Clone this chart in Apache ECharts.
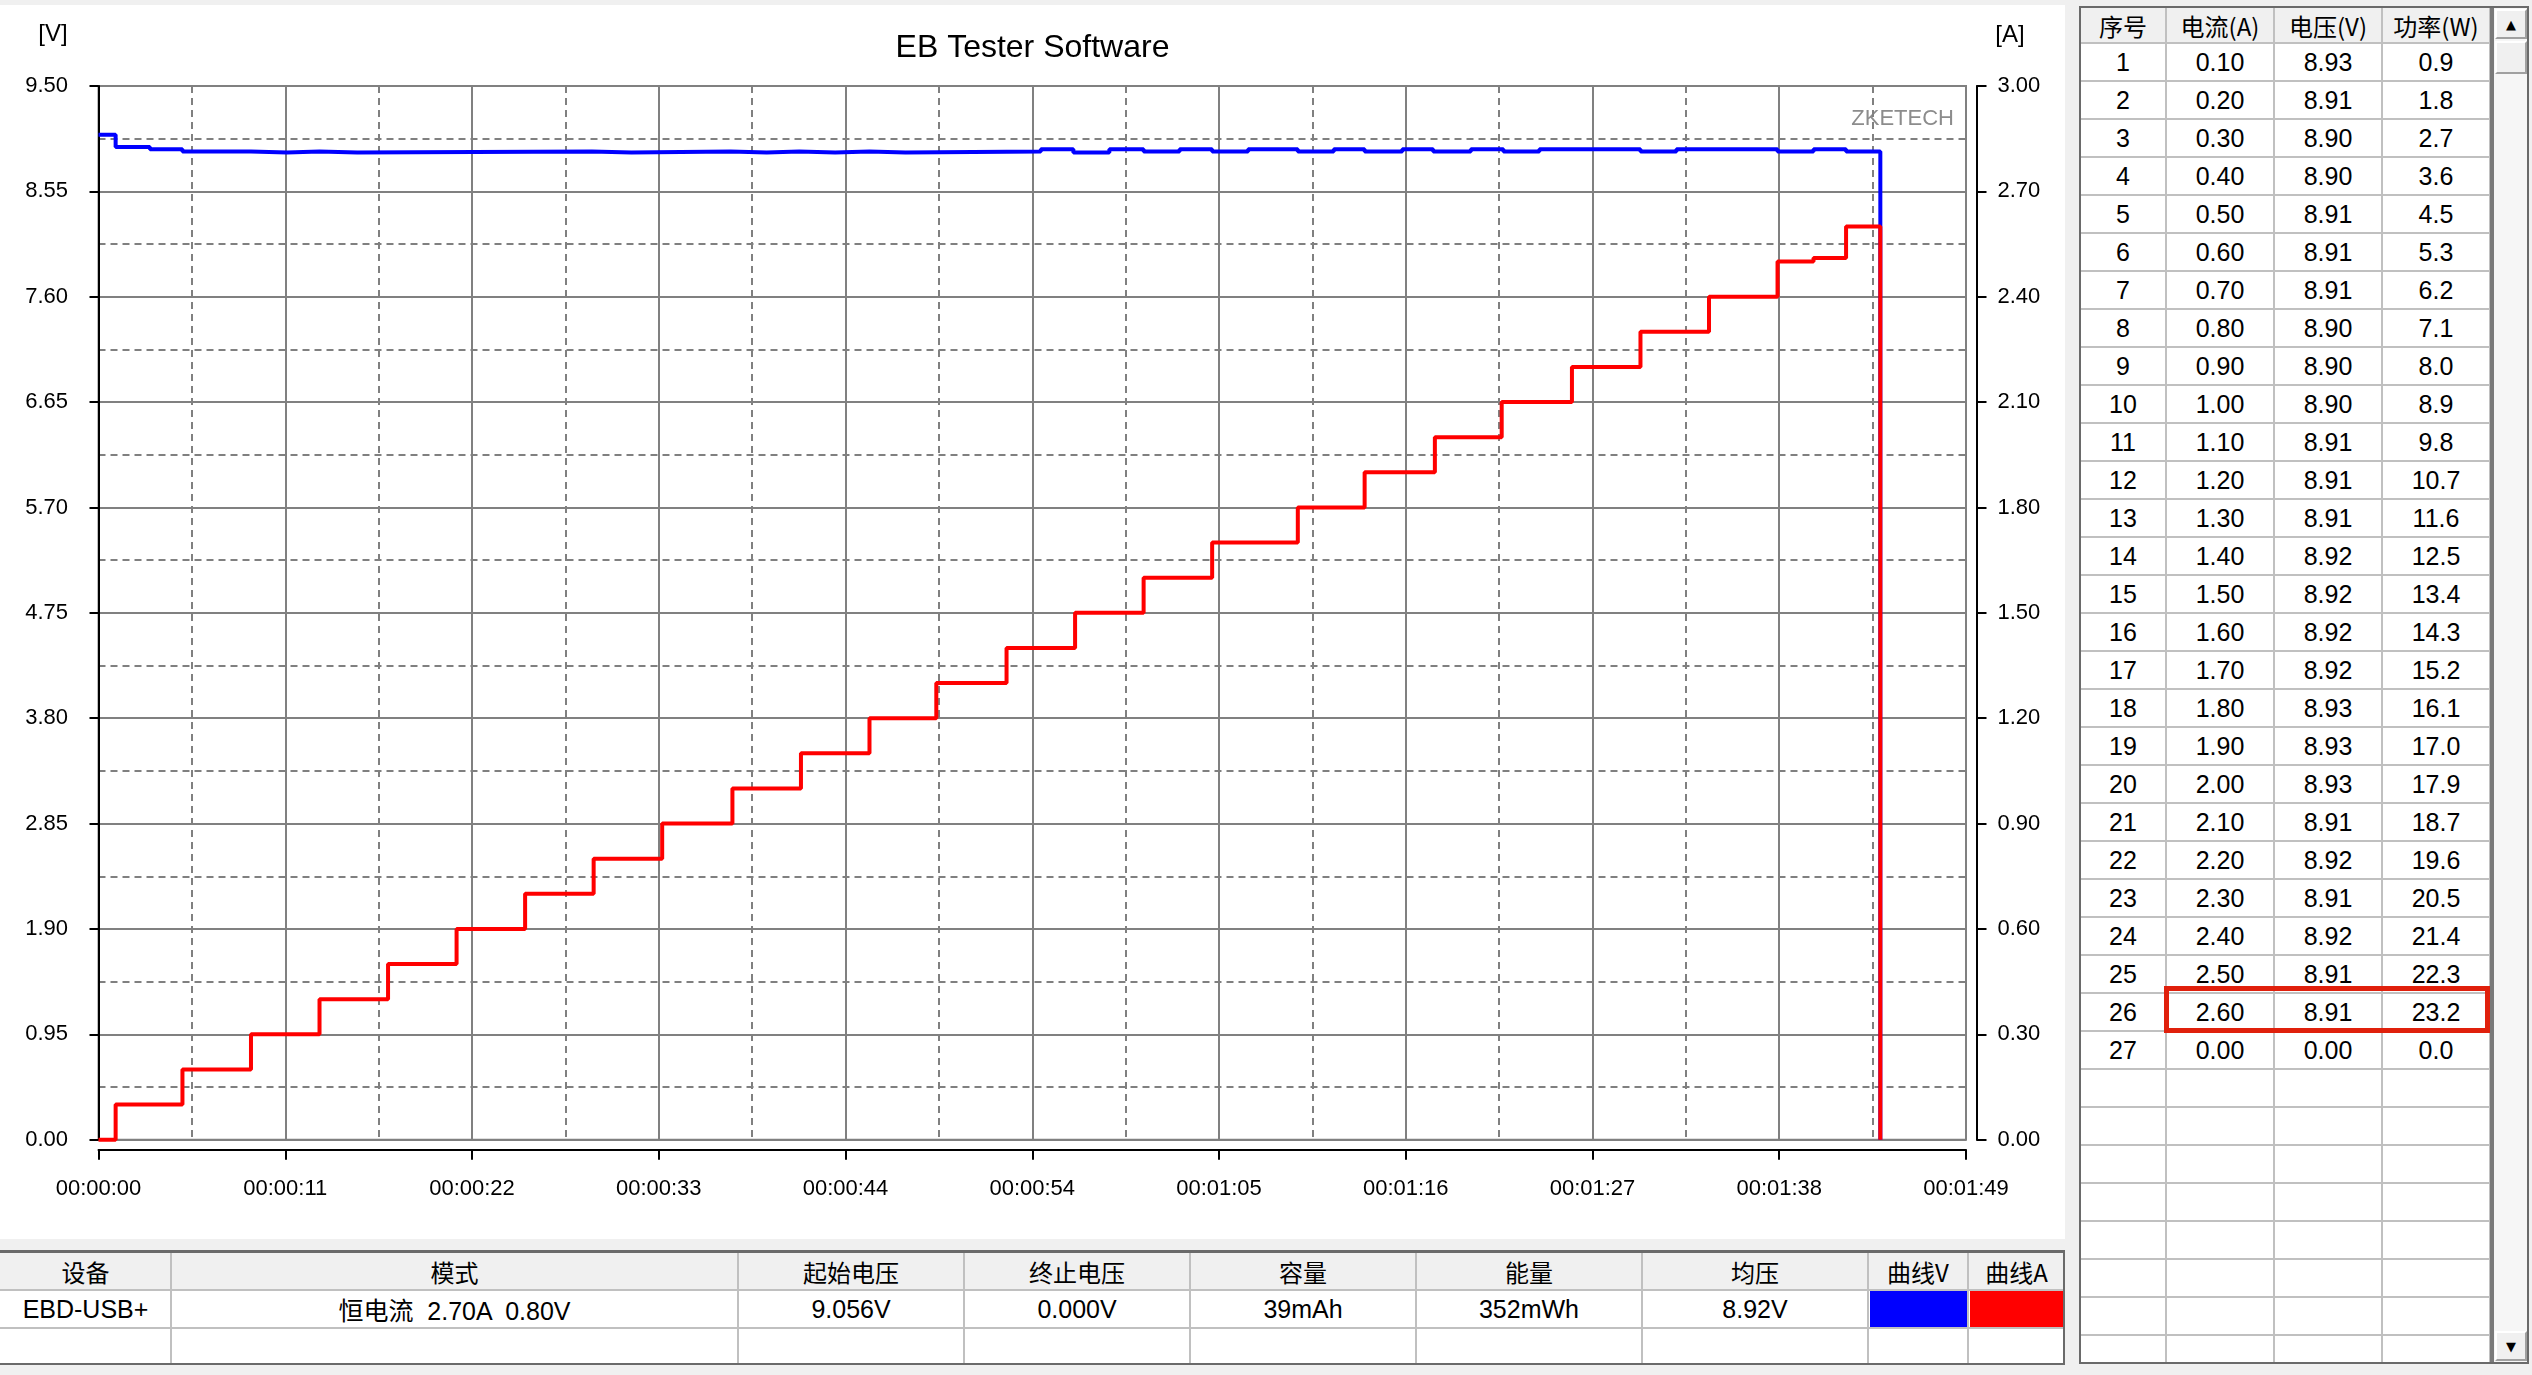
<!DOCTYPE html>
<html>
<head>
<meta charset="utf-8">
<script src="https://cdn.jsdelivr.net/npm/echarts@6/dist/echarts.min.js"></script>
<style>
html,body{margin:0;padding:0;width:2532px;height:1375px;overflow:hidden;background:#f0f0f0;}
#chart{position:absolute;left:0;top:5px;width:2065px;height:1234px;background:#fff;}
.abs{position:absolute;box-sizing:border-box;}
.cell{position:absolute;box-sizing:border-box;display:flex;align-items:center;justify-content:center;color:#000;white-space:pre;}
</style>
</head>
<body>
<div id="chart"></div>
<div id="bottom"></div>
<div id="side"></div>
<script>
// ---------------- data ----------------
const chartTitle = 'EB Tester Software';
const timeTickLabels = ['00:00:00','00:00:11','00:00:22','00:00:33','00:00:44','00:00:54','00:01:05','00:01:16','00:01:27','00:01:38','00:01:49'];
const voltTickLabels = ['0.00','0.95','1.90','2.85','3.80','4.75','5.70','6.65','7.60','8.55','9.50'];
const ampTickLabels = ['0.00','0.30','0.60','0.90','1.20','1.50','1.80','2.10','2.40','2.70','3.00'];

// voltage curve (blue): change times in seconds and held values in V
const voltTime  = [0, 1.0, 3.0, 4.9, 8.9, 11.0, 12.9, 15.1, 28.8, 31.1, 36.9, 39.0, 40.9, 43.0, 45.0, 47.1, 55.0, 56.9, 59.0, 61.0, 63.1, 65.0, 67.1, 70.0, 72.1, 73.9, 76.1, 77.9, 80.1, 82.0, 84.1, 90.0, 92.1, 98.0, 100.1, 102.0, 104.0];
const voltValue = [9.06, 8.95, 8.93, 8.91, 8.90, 8.91, 8.90, 8.91, 8.90, 8.91, 8.90, 8.91, 8.90, 8.91, 8.90, 8.91, 8.93, 8.90, 8.93, 8.91, 8.93, 8.91, 8.93, 8.91, 8.93, 8.91, 8.93, 8.91, 8.93, 8.91, 8.93, 8.91, 8.93, 8.91, 8.93, 8.91, 0];

// current curve (red): change times in seconds and held values in A
const ampTime  = [0, 1.0, 4.9, 8.9, 12.9, 16.9, 20.9, 24.9, 28.9, 32.9, 37.0, 41.0, 45.0, 48.9, 53.0, 57.0, 61.0, 65.0, 70.0, 73.9, 78.0, 81.9, 86.0, 90.0, 94.0, 98.0, 100.1, 102.0, 104.0];
const ampValue = [0, 0.10, 0.20, 0.30, 0.40, 0.50, 0.60, 0.70, 0.80, 0.90, 1.00, 1.10, 1.20, 1.30, 1.40, 1.50, 1.60, 1.70, 1.80, 1.90, 2.00, 2.10, 2.20, 2.30, 2.40, 2.50, 2.51, 2.60, 0];

// right-hand table
const sideHeaders = ['序号','电流(A)','电压(V)','功率(W)'];
const sideSeq     = ['1','2','3','4','5','6','7','8','9','10','11','12','13','14','15','16','17','18','19','20','21','22','23','24','25','26','27'];
const sideCurrent = ['0.10','0.20','0.30','0.40','0.50','0.60','0.70','0.80','0.90','1.00','1.10','1.20','1.30','1.40','1.50','1.60','1.70','1.80','1.90','2.00','2.10','2.20','2.30','2.40','2.50','2.60','0.00'];
const sideVoltage = ['8.93','8.91','8.90','8.90','8.91','8.91','8.91','8.90','8.90','8.90','8.91','8.91','8.91','8.92','8.92','8.92','8.92','8.93','8.93','8.93','8.91','8.92','8.91','8.92','8.91','8.91','0.00'];
const sidePower   = ['0.9','1.8','2.7','3.6','4.5','5.3','6.2','7.1','8.0','8.9','9.8','10.7','11.6','12.5','13.4','14.3','15.2','16.1','17.0','17.9','18.7','19.6','20.5','21.4','22.3','23.2','0.0'];
const highlightRow = 26;

// bottom summary table
const summaryHeaders = ['设备','模式','起始电压','终止电压','容量','能量','均压','曲线V','曲线A'];
const summaryValues  = ['EBD-USB+','恒电流  2.70A  0.80V','9.056V','0.000V','39mAh','352mWh','8.92V','',''];

// ---------------- styles ----------------
const REGULAR = '"Liberation Sans", Arial, "Noto Sans CJK SC", sans-serif';
const CJK = '"Noto Sans CJK SC", "Liberation Sans", sans-serif';
const GRID_COLOR = '#808080';

// ---------------- chart ----------------
const chart = echarts.init(document.getElementById('chart'), null, {renderer: 'canvas'});
const labelStyle = {fontSize: 22, fontFamily: REGULAR, color: '#000'};
const option = {
  animation: false,
  backgroundColor: '#fff',
  title: {
    text: chartTitle, left: 'center', top: 22,
    textStyle: {fontSize: 32, fontWeight: 'normal', color: '#000', fontFamily: REGULAR}
  },
  grid: {left: 98.5, top: 81, width: 1867.5, height: 1053.7, show: true, borderColor: GRID_COLOR, borderWidth: 2, backgroundColor: 'transparent', containLabel: false},
  xAxis: {
    type: 'value', min: 0, max: 109, interval: 10.9, offset: 10,
    axisLine: {show: true, onZero: false, lineStyle: {color: '#000', width: 2}},
    axisTick: {show: true, length: 10, lineStyle: {color: '#000', width: 2}},
    axisLabel: Object.assign({margin: 28, formatter: v => timeTickLabels[Math.round(v / 10.9)] || ''}, labelStyle),
    splitLine: {show: true, lineStyle: {color: GRID_COLOR, width: 2}},
    minorTick: {show: false, splitNumber: 2},
    minorSplitLine: {show: true, lineStyle: {color: GRID_COLOR, width: 2, type: [7, 5]}}
  },
  yAxis: [{
    type: 'value', position: 'left', min: 0, max: 9.5, interval: 0.95, offset: 11.5,
    axisLine: {show: true, lineStyle: {color: '#000', width: 2}},
    axisTick: {show: true, length: 9, lineStyle: {color: '#000', width: 2}},
    axisLabel: Object.assign({margin: 19, formatter: v => voltTickLabels[Math.round(v / 0.95)] || ''}, labelStyle),
    splitLine: {show: true, lineStyle: {color: GRID_COLOR, width: 2}},
    minorTick: {show: false, splitNumber: 2},
    minorSplitLine: {show: true, lineStyle: {color: GRID_COLOR, width: 2, type: [7, 5]}}
  }, {
    type: 'value', position: 'right', min: 0, max: 3, interval: 0.3, offset: 10.5,
    axisLine: {show: true, lineStyle: {color: '#000', width: 2}},
    axisTick: {show: true, length: 10, lineStyle: {color: '#000', width: 2}},
    axisLabel: Object.assign({margin: 21, formatter: v => ampTickLabels[Math.round(v / 0.3)] || ''}, labelStyle),
    splitLine: {show: false},
    minorSplitLine: {show: false}
  }],
  graphic: [
    {type: 'text', x: 53, y: 29, style: {text: '[V]', fontSize: 24, fontFamily: REGULAR, fill: '#000', align: 'center', verticalAlign: 'middle'}},
    {type: 'text', x: 2010, y: 30, style: {text: '[A]', fontSize: 24, fontFamily: REGULAR, fill: '#000', align: 'center', verticalAlign: 'middle'}},
    {type: 'text', x: 1954, y: 114, style: {text: 'ZKETECH', fontSize: 22, fontFamily: REGULAR, fill: '#8c8c8c', align: 'right', verticalAlign: 'middle'}}
  ],
  series: [{
    name: '曲线V', type: 'line', yAxisIndex: 0, step: 'end', showSymbol: false, clip: false,
    lineStyle: {color: '#0000ff', width: 4}, itemStyle: {color: '#0000ff'},
    data: voltTime.map((t, i) => [t, voltValue[i]]), z: 3
  }, {
    name: '曲线A', type: 'line', yAxisIndex: 1, step: 'end', showSymbol: false, clip: false,
    lineStyle: {color: '#ff0000', width: 4}, itemStyle: {color: '#ff0000'},
    data: ampTime.map((t, i) => [t, ampValue[i]]), z: 4
  }]
};
chart.setOption(option);

// ---------------- tables (HTML) ----------------
function box(parent, x, y, w, h, css) {
  const d = document.createElement('div');
  d.className = 'abs';
  d.style.left = x + 'px'; d.style.top = y + 'px'; d.style.width = w + 'px'; d.style.height = h + 'px';
  if (css) d.style.cssText += css;
  parent.appendChild(d);
  return d;
}
function text(parent, x, y, w, h, str, font, size) {
  const d = document.createElement('div');
  d.className = 'cell';
  d.style.left = x + 'px'; d.style.top = y + 'px'; d.style.width = w + 'px'; d.style.height = h + 'px';
  d.style.fontFamily = font; d.style.fontSize = size + 'px';
  d.textContent = str;
  parent.appendChild(d);
  return d;
}

// bottom table
const bottom = document.getElementById('bottom');
const bCols = [0, 171, 738, 964, 1190, 1416, 1642, 1868, 1968, 2065];
box(bottom, 0, 1290, 2065, 74, 'background:#fff;');
box(bottom, 1870, 1291, 98, 37, 'background:#0000ff;');
box(bottom, 1970, 1291, 93, 37, 'background:#ff0000;');
box(bottom, 0, 1289, 2065, 2, 'background:#c0c0c0;');
box(bottom, 0, 1327, 2065, 2, 'background:#c0c0c0;');
for (let i = 1; i < bCols.length - 1; i++) box(bottom, bCols[i] - 1, 1252, 2, 112, 'background:#c0c0c0;');
box(bottom, 0, 1250, 2065, 3, 'background:#6a6a6a;');
box(bottom, 0, 1363, 2065, 2, 'background:#6a6a6a;');
box(bottom, 2063, 1250, 2, 115, 'background:#6a6a6a;');
for (let i = 0; i < summaryHeaders.length; i++) {
  const x0 = bCols[i], w = bCols[i + 1] - bCols[i];
  text(bottom, x0, 1253, w, 37, summaryHeaders[i], CJK, 24);
  if (summaryValues[i]) text(bottom, x0, 1290, w, 38, summaryValues[i], REGULAR, 25);
}

// right table
const side = document.getElementById('side');
const sCols = [2080, 2166, 2274, 2382, 2490];
const rowTop = 43.3, rowH = 38;
box(side, 2080, 43, 411, 1320, 'background:#fff;');
for (let k = 0; k * rowH + rowTop < 1362; k++) box(side, 2080, rowTop + k * rowH - 1, 411, 2, 'background:#c0c0c0;');
for (let i = 1; i < sCols.length; i++) box(side, sCols[i] - 1, 7, 2, 1356, 'background:#c0c0c0;');
// scrollbar
box(side, 2492, 7, 36, 1356, 'background:#f6f6f6;');
box(side, 2490, 7, 4, 1356, 'background:#7a7a7a;');
const btnCss = 'background:#f0f0f0;border-top:2px solid #fff;border-left:2px solid #fff;border-right:2px solid #a0a0a0;border-bottom:2px solid #a0a0a0;';
box(side, 2495, 9, 32, 30, btnCss);
box(side, 2495, 41, 32, 33, btnCss);
box(side, 2495, 1331, 32, 30, btnCss);
text(side, 2495, 9, 32, 30, '▲', '"DejaVu Sans", sans-serif', 13);
text(side, 2495, 1331, 32, 30, '▼', '"DejaVu Sans", sans-serif', 13);
// outer frame
box(side, 2079, 6, 2, 1358, 'background:#6a6a6a;');
box(side, 2079, 6, 450, 2, 'background:#6a6a6a;');
box(side, 2079, 1362, 450, 2, 'background:#6a6a6a;');
box(side, 2527, 6, 2, 1358, 'background:#6a6a6a;');
// texts
for (let c = 0; c < 4; c++) text(side, sCols[c], 8, sCols[c + 1] - sCols[c], 35, sideHeaders[c], CJK, 24);
const sideCols = [sideSeq, sideCurrent, sideVoltage, sidePower];
for (let r = 0; r < sideSeq.length; r++) {
  for (let c = 0; c < 4; c++) {
    text(side, sCols[c], rowTop + r * rowH, sCols[c + 1] - sCols[c], rowH, sideCols[c][r], REGULAR, 25);
  }
}
// highlight of the last loaded row
box(side, 2164, rowTop + (highlightRow - 1) * rowH - 7, 326, 47, 'border:5px solid #e0200c;');
</script>
</body>
</html>
